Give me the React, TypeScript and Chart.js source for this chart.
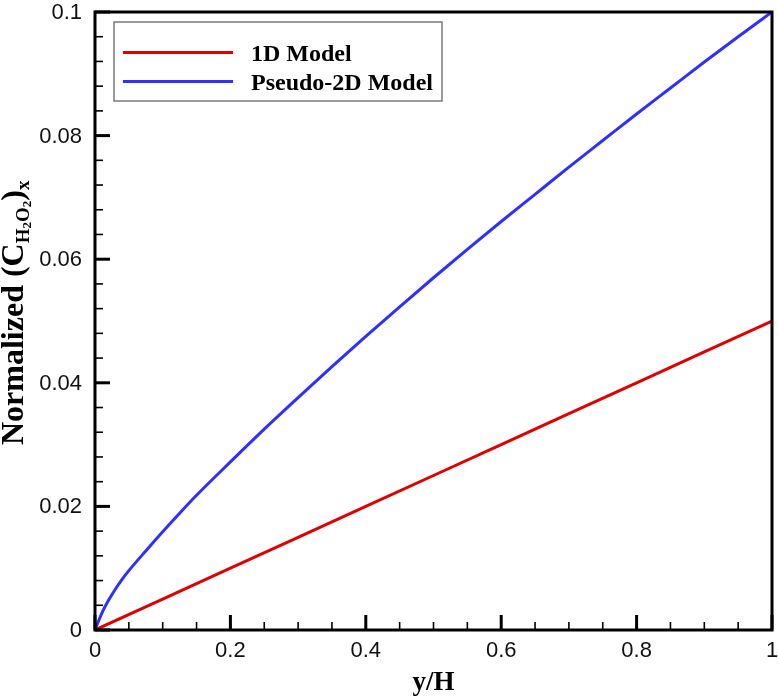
import React, { useEffect, useRef } from "react";
import { Chart, registerables } from "chart.js";

Chart.register(...registerables);

// ---- data ----
const xOneD = [0, 0.1, 0.2, 0.3, 0.4, 0.5, 0.6, 0.7, 0.8, 0.9, 1.0];
const yOneD = [0, 0.005, 0.01, 0.015, 0.02, 0.025, 0.03, 0.035, 0.04, 0.045, 0.05];

const xPseudo = [0, 0.01, 0.02, 0.03, 0.04, 0.05, 0.075, 0.1, 0.125, 0.15, 0.2, 0.25, 0.3, 0.35, 0.4, 0.45, 0.5, 0.55, 0.6, 0.65, 0.7, 0.75, 0.8, 0.85, 0.9, 0.95, 1.0];
const yPseudo = [0, 0.0027, 0.0048, 0.0066, 0.0082, 0.0096, 0.0128, 0.0159, 0.0189, 0.0218, 0.0272, 0.0325, 0.0376, 0.0426, 0.0475, 0.0523, 0.057, 0.0616, 0.0661, 0.0705, 0.0749, 0.0792, 0.0835, 0.0877, 0.0919, 0.096, 0.1];

const seriesLabels = ["1D Model", "Pseudo-2D Model"];
const seriesColors = ["#dc0000", "#2f2fff"];

const xTicks = [0, 0.2, 0.4, 0.6, 0.8, 1];
const xTickLabels = ["0", "0.2", "0.4", "0.6", "0.8", "1"];
const yTicks = [0, 0.02, 0.04, 0.06, 0.08, 0.1];
const yTickLabels = ["0", "0.02", "0.04", "0.06", "0.08", "0.1"];
const xMinorStep = 0.05;
const yMinorStep = 0.004;

const xTitle = "y/H";

const SERIF = "'Liberation Serif', 'Times New Roman', serif";
const SANS = "'Liberation Sans', Arial, sans-serif";

const framePlugin = {
  id: "framePlugin",
  afterDatasetsDraw(chart: any) {
    const { ctx, chartArea: a, scales } = chart;
    const xs = scales.x;
    const ys = scales.y;
    ctx.save();
    ctx.strokeStyle = "#000";
    ctx.lineCap = "butt";
    // minor ticks
    ctx.lineWidth = 1.6;
    const nx = Math.round((xs.max - xs.min) / xMinorStep);
    for (let i = 0; i <= nx; i++) {
      const px = xs.getPixelForValue(xs.min + i * xMinorStep);
      ctx.beginPath();
      ctx.moveTo(px, a.bottom);
      ctx.lineTo(px, a.bottom - 8);
      ctx.stroke();
    }
    const ny = Math.round((ys.max - ys.min) / yMinorStep);
    for (let i = 0; i <= ny; i++) {
      const py = ys.getPixelForValue(ys.min + i * yMinorStep);
      ctx.beginPath();
      ctx.moveTo(a.left, py);
      ctx.lineTo(a.left + 8, py);
      ctx.stroke();
    }
    // major ticks
    ctx.lineWidth = 3;
    xTicks.forEach((v) => {
      const px = xs.getPixelForValue(v);
      ctx.beginPath();
      ctx.moveTo(px, a.bottom);
      ctx.lineTo(px, a.bottom - 15);
      ctx.stroke();
    });
    yTicks.forEach((v) => {
      const py = ys.getPixelForValue(v);
      ctx.beginPath();
      ctx.moveTo(a.left, py);
      ctx.lineTo(a.left + 15, py);
      ctx.stroke();
    });
    // frame
    ctx.lineWidth = 3;
    ctx.strokeRect(a.left, a.top, a.right - a.left, a.bottom - a.top);
    ctx.restore();
  },
  afterDraw(chart: any) {
    const { ctx, chartArea: a, scales } = chart;
    const xs = scales.x;
    const ys = scales.y;
    ctx.save();
    ctx.fillStyle = "#111";

    // tick labels
    ctx.font = `22px ${SANS}`;
    ctx.textAlign = "center";
    ctx.textBaseline = "alphabetic";
    xTicks.forEach((v, i) => {
      ctx.fillText(xTickLabels[i], xs.getPixelForValue(v), a.bottom + 27);
    });
    ctx.textAlign = "right";
    ctx.textBaseline = "middle";
    yTicks.forEach((v, i) => {
      ctx.fillText(yTickLabels[i], a.left - 13, ys.getPixelForValue(v) + 1);
    });

    ctx.fillStyle = "#000";
    // x title
    ctx.font = `bold 27px ${SERIF}`;
    ctx.textAlign = "center";
    ctx.textBaseline = "alphabetic";
    ctx.fillText(xTitle, (a.left + a.right) / 2, 690);

    // y title with subscripts (rotated)
    ctx.translate(23, 445);
    ctx.rotate(-Math.PI / 2);
    ctx.textAlign = "left";
    const parts: [string, number, number][] = [
      ["Normalized (C", 32, 0],
      ["H", 19, 6],
      ["2", 13, 8],
      ["O", 19, 6],
      ["2", 13, 8],
      [")", 32, 0],
      ["x", 19, 6],
    ];
    let cx = 0;
    parts.forEach(([t, s, dy]) => {
      ctx.font = `bold ${s}px ${SERIF}`;
      ctx.fillText(t, cx, dy);
      cx += ctx.measureText(t).width;
    });
    ctx.setTransform(1, 0, 0, 1, 0, 0);

    // legend
    ctx.font = `bold 24px ${SERIF}`;
    const maxW = Math.max(...seriesLabels.map((l) => ctx.measureText(l).width));
    const bx = a.left + 19;
    const by = a.top + 10;
    const bw = 137 + maxW + 9;
    const bh = 79;
    ctx.fillStyle = "#fff";
    ctx.fillRect(bx, by, bw, bh);
    ctx.strokeStyle = "#7a7a7a";
    ctx.lineWidth = 1.5;
    ctx.strokeRect(bx, by, bw, bh);
    seriesLabels.forEach((lbl, i) => {
      const ly = by + 30.5 + i * 29;
      ctx.strokeStyle = seriesColors[i];
      ctx.lineWidth = 3;
      ctx.beginPath();
      ctx.moveTo(bx + 9, ly);
      ctx.lineTo(bx + 119, ly);
      ctx.stroke();
      ctx.fillStyle = "#000";
      ctx.textBaseline = "middle";
      ctx.textAlign = "left";
      ctx.fillText(lbl, bx + 137, ly + 2);
    });
    ctx.restore();
  },
};

export default function App() {
  const ref = useRef<HTMLCanvasElement>(null);
  useEffect(() => {
    const canvas = ref.current!;
    const chart = new Chart(canvas, {
      type: "line",
      data: {
        datasets: [
          {
            label: seriesLabels[0],
            data: xOneD.map((x, i) => ({ x, y: yOneD[i] })),
            borderColor: seriesColors[0],
            backgroundColor: seriesColors[0],
            borderWidth: 3,
            pointRadius: 0,
            tension: 0,
          },
          {
            label: seriesLabels[1],
            data: xPseudo.map((x, i) => ({ x, y: yPseudo[i] })),
            borderColor: seriesColors[1],
            backgroundColor: seriesColors[1],
            borderWidth: 3,
            pointRadius: 0,
            cubicInterpolationMode: "monotone",
          },
        ],
      },
      options: {
        responsive: false,
        animation: false,
        layout: { padding: { top: 12, right: 6, left: 0, bottom: 0 } },
        plugins: { legend: { display: false }, tooltip: { enabled: false } },
        scales: {
          x: {
            type: "linear",
            min: 0,
            max: 1,
            afterBuildTicks: (s: any) => {
              s.ticks = xTicks.map((v) => ({ value: v }));
            },
            afterFit: (s: any) => {
              s.height = 70;
              s.paddingLeft = 0;
              s.paddingRight = 0;
            },
            grid: { display: false, drawTicks: false },
            border: { display: false },
            ticks: { display: false },
          },
          y: {
            type: "linear",
            min: 0,
            max: 0.1,
            afterBuildTicks: (s: any) => {
              s.ticks = yTicks.map((v) => ({ value: v }));
            },
            afterFit: (s: any) => {
              s.width = 95;
              s.paddingTop = 0;
              s.paddingBottom = 0;
            },
            grid: { display: false, drawTicks: false },
            border: { display: false },
            ticks: { display: false },
          },
        },
      },
      plugins: [framePlugin],
    } as any);
    return () => chart.destroy();
  }, []);
  return (
    <div style={{ position: "fixed", left: 0, top: 0, width: 778, height: 700, background: "#fff" }}>
      <canvas ref={ref} width={778} height={700} style={{ width: 778, height: 700, display: "block" }} />
    </div>
  );
}
